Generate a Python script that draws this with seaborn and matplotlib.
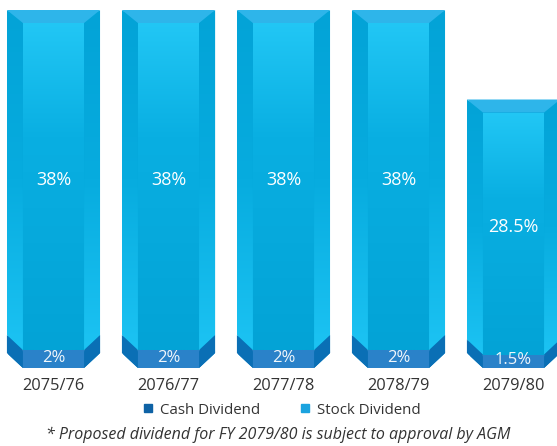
import numpy as np
import pandas as pd
import matplotlib
matplotlib.use("Agg")
import matplotlib.pyplot as plt
import seaborn as sns
from matplotlib.patches import Polygon
from matplotlib.lines import Line2D
from matplotlib.colors import LinearSegmentedColormap

# ---- data ----
years = ["2075/76", "2076/77", "2077/78", "2078/79", "2079/80"]
cash = [2, 2, 2, 2, 1.5]
stock = [38, 38, 38, 38, 28.5]
cash_labels = ["2%", "2%", "2%", "2%", "1.5%"]
stock_labels = ["38%", "38%", "38%", "38%", "28.5%"]
legend_labels = ["Cash Dividend", "Stock Dividend"]
footnote = "* Proposed dividend for FY 2079/80 is subject to approval by AGM"

# ---- style ----
STOCK_MID = "#05A8DC"
CASH_MID = "#2A82C9"
CASH_SIDE = "#0A6FB5"
CAP = "#2EB5EA"
LEG_CASH = "#0E62A5"
LEG_STOCK = "#1BA3DF"
TXT = "#333333"

sns.set_theme(style="white")
plt.rcParams['font.family'] = ['Open Sans', 'DejaVu Sans']

W, H = 557, 446
fig = plt.figure(figsize=(W / 100, H / 100), dpi=100)
base_px = 368
ax = fig.add_axes([0, (H - base_px) / H, 1, base_px / H])

df = pd.DataFrame({"year": years, "cash": cash, "stock": stock})
df["total"] = df["cash"] + df["stock"]

sns.barplot(data=df, x="year", y="total", color=STOCK_MID, width=0.81,
            saturation=1, errorbar=None, ax=ax)
sns.barplot(data=df, x="year", y="cash", color=CASH_MID, width=0.81,
            saturation=1, errorbar=None, ax=ax)

pitch = 115.0
xl0 = -53.5 / pitch
xl1 = 4 + (W - 513.5) / pitch
ytop = 40 * base_px / 358.0
ax.set_xlim(xl0, xl1)
ax.set_ylim(0, ytop)

sx = W / (xl1 - xl0)          # px per x unit
sy = base_px / ytop            # px per y unit

center_cmap = LinearSegmentedColormap.from_list(
    "c", [(0, "#22C7F5"), (0.35, "#09AFE2"), (1, "#03A3D6")])
side_cmap = LinearSegmentedColormap.from_list(
    "s", [(0, "#03A3D7"), (0.5, "#07ACDF"), (1, "#1CC3F3")])
grad = np.linspace(0, 1, 256).reshape(-1, 1)

patches = list(ax.patches)
n = len(years)
for i in range(n):
    tp = patches[i]
    cp = patches[n + i]
    x0 = tp.get_x()
    x1 = x0 + tp.get_width()
    yt = tp.get_height()
    yb = cp.get_height()
    bw = 16 / sx
    bh = 15 / sy
    ch = 13 / sy
    xi0, xi1 = x0 + bw, x1 - bw

    outline = Polygon([(x0, bh), (xi0, 0), (xi1, 0), (x1, bh), (x1, yt), (x0, yt)],
                      closed=True, transform=ax.transData, fill=False, lw=0)
    ax.add_patch(outline)
    outline.set_visible(False)
    tp.set_clip_path(outline)
    cp.set_clip_path(outline)

    # stock centre gradient
    rect = Polygon([(xi0, yb), (xi1, yb), (xi1, yt - ch), (xi0, yt - ch)],
                   closed=True, transform=ax.transData, fill=False, lw=0)
    ax.add_patch(rect)
    im = ax.imshow(grad, cmap=center_cmap, aspect="auto", origin="upper",
                   extent=(xi0, xi1, yb, yt - ch), zorder=2.1)
    im.set_clip_path(rect)

    # side strips
    for pts in ([(x0, yt), (xi0, yt - ch), (xi0, yb), (x0, yb + bh)],
                [(x1, yt), (xi1, yt - ch), (xi1, yb), (x1, yb + bh)]):
        poly = Polygon(pts, closed=True, transform=ax.transData, fill=False, lw=0)
        ax.add_patch(poly)
        xs = [p[0] for p in pts]
        im = ax.imshow(grad, cmap=side_cmap, aspect="auto", origin="upper",
                       extent=(min(xs), max(xs), yb, yt), zorder=2.1)
        im.set_clip_path(poly)

    # top cap
    ax.add_patch(Polygon([(x0, yt), (x1, yt), (xi1, yt - ch), (xi0, yt - ch)],
                         closed=True, color=CAP, lw=0, zorder=2.2))
    # cash side bevels
    ax.add_patch(Polygon([(x0, yb + bh), (xi0, yb), (xi0, 0), (x0, bh)],
                         closed=True, color=CASH_SIDE, lw=0, zorder=2.2))
    ax.add_patch(Polygon([(x1, yb + bh), (xi1, yb), (xi1, 0), (x1, bh)],
                         closed=True, color=CASH_SIDE, lw=0, zorder=2.2))
    # cash centre
    ax.add_patch(Polygon([(xi0, 0), (xi1, 0), (xi1, yb), (xi0, yb)],
                         closed=True, color=CASH_MID, lw=0, zorder=2.2))

    xc = (x0 + x1) / 2
    ax.text(xc, yb + (yt - yb) / 2, stock_labels[i], ha="center", va="center",
            fontsize=13, color="white", zorder=5)
    ax.text(xc, yb / 2 + 0.1, cash_labels[i], ha="center", va="center",
            fontsize=12, color="#F0F7FC", zorder=5)

ax.set_xlim(xl0, xl1)
ax.set_ylim(0, ytop)
ax.set_xlabel("")
ax.set_ylabel("")
ax.set_yticks([])
ax.tick_params(axis="x", length=0, pad=7, labelsize=11.8, labelcolor=TXT)
for s in ax.spines.values():
    s.set_visible(False)
ax.set_facecolor("none")

handles = [Line2D([], [], marker="s", linestyle="", color=LEG_CASH, markersize=5.5),
           Line2D([], [], marker="s", linestyle="", color=LEG_STOCK, markersize=5.5)]
fig.legend(handles, legend_labels, loc="center", bbox_to_anchor=(0.505, 1 - 410 / H),
           ncol=2, frameon=False, fontsize=10.8, handlelength=0.8, handletextpad=0.4,
           columnspacing=2.6, labelcolor=TXT)

fig.text(0.5, 1 - 435 / H, footnote, ha="center", va="center", style="italic",
         fontsize=11.5, color=TXT)

fig.savefig("out.png", dpi=100)
